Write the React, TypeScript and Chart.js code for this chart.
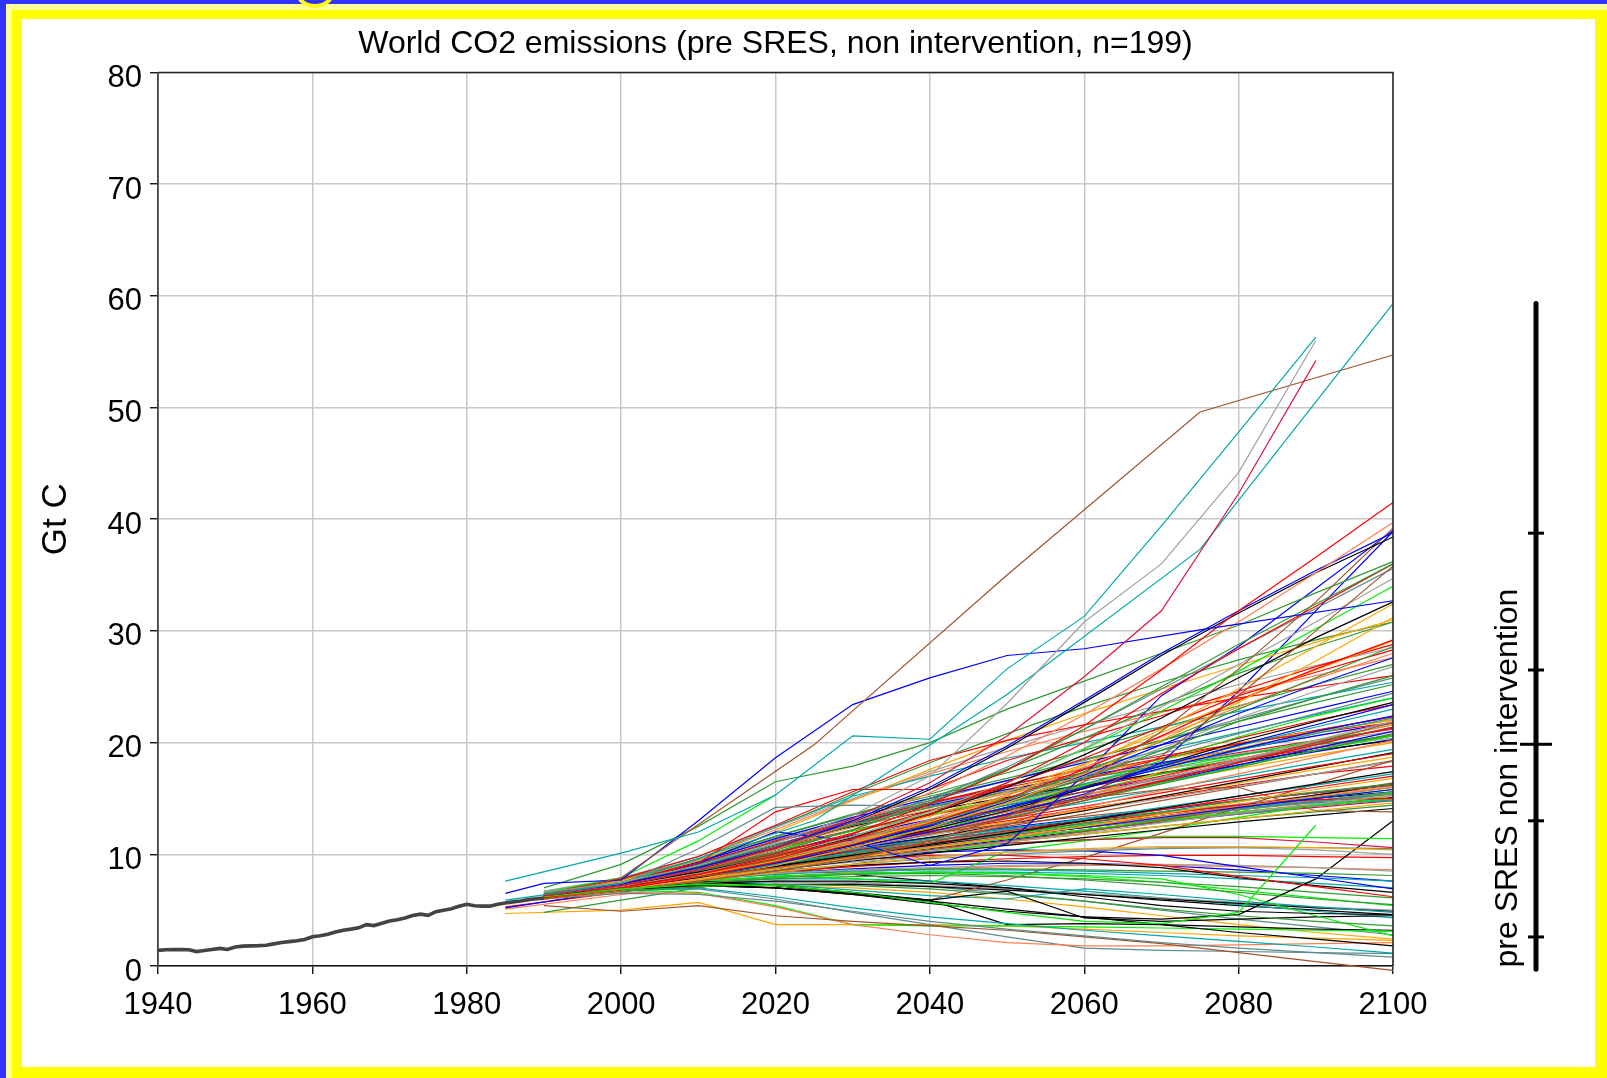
import React, { useEffect, useRef } from 'react';
import { Chart, registerables } from 'chart.js';

Chart.register(...registerables);

// ---------------- data ----------------
const HIST_YEARS = [
  1940, 1941, 1942, 1943, 1944, 1945, 1946, 1947, 1948, 1949,
  1950, 1951, 1952, 1953, 1954, 1955, 1956, 1957, 1958, 1959,
  1960, 1961, 1962, 1963, 1964, 1965, 1966, 1967, 1968, 1969,
  1970, 1971, 1972, 1973, 1974, 1975, 1976, 1977, 1978, 1979,
  1980, 1981, 1982, 1983, 1984, 1985, 1986, 1987, 1988, 1989, 1990,
];
const HIST_VALUES = [
  1.40, 1.46, 1.47, 1.47, 1.46, 1.29, 1.38, 1.48, 1.58, 1.48,
  1.70, 1.78, 1.80, 1.82, 1.86, 1.98, 2.10, 2.18, 2.26, 2.38,
  2.62, 2.70, 2.85, 3.05, 3.20, 3.30, 3.42, 3.70, 3.62, 3.82,
  4.02, 4.14, 4.30, 4.52, 4.64, 4.54, 4.86, 5.00, 5.12, 5.34,
  5.52, 5.40, 5.36, 5.36, 5.52, 5.64, 5.74, 5.82, 5.94, 6.02, 6.08,
];

const DECADES = [1990, 2000, 2010, 2020, 2030, 2040, 2050, 2060, 2070, 2080, 2090, 2100];
const DECADES_TO_2090 = [1990, 2000, 2010, 2020, 2030, 2040, 2050, 2060, 2070, 2080, 2090];
const YEARS_85 = [1985, 2000, 2010, 2020, 2030, 2040, 2050, 2060, 2070, 2080, 2090, 2100];
const IS_YEARS = [1990, 2000, 2025, 2050, 2075, 2100];
const CYAN_A_YEARS = [1985, 2000, 2010, 2020, 2030, 2040, 2050, 2060, 2070, 2080, 2090];
const BLUE_B_YEARS = [1985, 1990, 2000, 2010, 2020, 2030, 2040, 2050, 2060, 2075, 2100];
const LIME_SHORT_YEARS = [1990, 2000, 2010, 2020];

const CYAN_A = [7.6, 10.1, 12.0, 15.3, 20.6, 20.3, 26.6, 31.3, 39.4, 47.8, 56.3];
const GRAY_END = [6.6, 7.5, 9.0, 11.0, 13.5, 17.0, 23.5, 30.8, 36.0, 44.2, 56.0];
const CRIMSON_END = [6.3, 7.2, 8.6, 10.6, 13.2, 16.4, 20.6, 25.9, 31.8, 42.3, 54.2];
const LIME_END = [6.2, 6.9, 7.3, 7.2, 6.6, 5.7, 4.8, 4.0, 3.8, 4.8, 12.6];
const CYAN_B = [6.4, 7.4, 13.0, 24.3, 37.3, 59.3];
const BROWN_B = [6.3, 7.9, 19.8, 35.0, 49.6, 54.7];
const BLUE_B = [6.5, 7.4, 7.7, 13.0, 18.65, 23.4, 25.8, 27.8, 28.4, 30.1, 32.7];
const LIME_SHORT = [6.6, 7.9, 11.2, 15.3];

const UPPER: number[][] = [
  [6.1, 7.0, 8.2, 9.8, 11.8, 14.5, 17.5, 21.5, 26.5, 31.8, 36.6, 41.5],
  [6.3, 7.2, 8.6, 10.4, 12.8, 15.5, 18.8, 22.5, 26.6, 30.8, 35.2, 39.7],
  [6.3, 7.3, 8.8, 10.6, 13.0, 16.0, 19.7, 23.8, 28.0, 31.8, 35.4, 38.8],
  [6.2, 7.2, 8.6, 10.4, 12.8, 15.8, 19.5, 23.6, 27.8, 31.6, 35.2, 38.4],
  [6.4, 7.3, 8.6, 10.2, 12.2, 14.6, 17.6, 21.2, 25.0, 28.8, 32.4, 36.0],
  [6.2, 7.0, 8.2, 9.6, 11.4, 13.6, 16.4, 20.0, 24.4, 28.4, 32.2, 36.0],
  [6.3, 7.2, 8.0, 8.8, 9.8, 11.0, 12.6, 15.2, 18.8, 24.2, 30.0, 35.8],
  [6.0, 6.8, 7.6, 8.5, 9.6, 11.2, 13.4, 16.5, 21.0, 26.6, 32.6, 39.2],
  [6.4, 7.3, 8.6, 10.2, 12.2, 14.8, 17.8, 21.2, 24.8, 28.4, 32.0, 35.6],
  [6.2, 7.1, 8.3, 9.8, 11.6, 13.8, 16.4, 19.5, 23.2, 27.0, 30.8, 34.7],
  [6.3, 7.2, 8.4, 9.8, 11.5, 13.6, 16.0, 18.9, 22.2, 25.8, 29.4, 32.6],
  [6.1, 7.0, 8.1, 9.4, 11.0, 12.9, 15.2, 18.0, 21.2, 24.8, 28.6, 32.4],
  [6.0, 6.8, 7.8, 9.0, 10.6, 12.4, 14.6, 17.2, 20.2, 23.6, 27.3, 31.2],
  [6.2, 7.1, 8.3, 9.8, 11.6, 13.8, 16.4, 19.4, 22.8, 26.4, 30.2, 34.0],
  [6.5, 7.5, 8.9, 10.6, 12.6, 15.0, 17.6, 20.4, 23.4, 26.2, 28.6, 30.8],
  [6.0, 6.9, 8.0, 9.3, 10.9, 12.8, 15.0, 17.6, 20.6, 23.8, 26.6, 29.2],
  [6.3, 7.2, 8.4, 9.8, 11.5, 13.4, 15.6, 18.1, 20.9, 23.8, 26.5, 29.1],
  [6.1, 7.0, 8.1, 9.4, 11.0, 12.8, 14.9, 17.4, 20.1, 23.0, 25.8, 28.6],
  [6.4, 7.3, 8.6, 10.1, 11.9, 13.9, 16.1, 18.6, 21.4, 24.2, 26.3, 28.3],
  [6.2, 7.0, 8.2, 9.6, 11.2, 13.1, 15.3, 17.8, 20.5, 23.2, 25.7, 28.0],
  [6.1, 6.9, 8.0, 9.3, 10.8, 12.6, 14.7, 17.1, 19.8, 22.6, 25.2, 27.6],
  [6.3, 7.2, 8.3, 9.6, 11.1, 12.8, 14.8, 17.0, 19.5, 22.2, 24.6, 26.8],
  [6.2, 7.1, 8.2, 9.5, 11.0, 12.7, 14.6, 16.8, 19.3, 21.9, 24.0, 26.0],
  [7.0, 9.1, 12.5, 16.5, 17.9, 20.0, 23.0, 25.5, 28.0, 30.5, 33.4, 36.2],
  [6.4, 7.3, 10.5, 14.2, 14.4, 14.3, 15.6, 17.2, 19.0, 20.8, 22.6, 24.4],
  [6.3, 7.4, 9.2, 13.8, 15.8, 15.8, 18.4, 20.4, 22.4, 24.6, 26.8, 28.8],
  [6.2, 7.2, 9.2, 12.0, 11.2, 9.0, 10.95, 17.1, 24.2, 28.6, 33.8, 39.0],
  [6.5, 7.8, 9.8, 12.6, 15.6, 18.4, 20.2, 21.6, 22.8, 24.0, 25.0, 26.0],
  [6.4, 7.6, 9.4, 12.0, 14.8, 17.6, 20.2, 22.6, 24.8, 26.9, 29.0, 31.0],
  [6.6, 7.9, 9.8, 12.4, 15.0, 17.4, 19.6, 21.6, 23.4, 25.2, 26.9, 28.5],
  [6.3, 7.6, 9.6, 12.4, 15.4, 18.2, 20.8, 23.2, 25.4, 27.4, 29.2, 30.8],
  [6.5, 7.8, 9.8, 12.5, 15.2, 17.0, 18.6, 20.0, 21.4, 22.8, 24.1, 25.4],
  [6.4, 7.7, 9.6, 12.2, 14.9, 17.2, 19.2, 21.0, 22.7, 24.4, 26.0, 27.6],
  [6.2, 7.0, 8.0, 9.2, 10.6, 12.0, 13.6, 15.4, 18.2, 24.6, 31.8, 38.9],
];

const MIDDLE: number[][] = [
  [6.0, 6.9, 8.0, 9.3, 10.8, 12.4, 14.2, 16.2, 18.4, 20.5, 22.4, 24.0],
  [6.3, 7.2, 8.3, 9.5, 10.8, 12.2, 13.9, 15.9, 18.0, 20.1, 21.9, 23.6],
  [6.2, 7.2, 8.4, 9.8, 11.4, 13.0, 14.8, 16.7, 18.6, 20.4, 22.0, 23.4],
  [6.1, 7.0, 8.1, 9.4, 10.9, 12.4, 14.1, 15.9, 17.7, 19.4, 21.0, 22.4],
  [6.4, 7.3, 8.5, 9.9, 11.3, 12.8, 14.4, 16.0, 17.7, 19.3, 20.8, 22.2],
  [6.2, 7.1, 8.3, 9.7, 11.2, 12.8, 14.5, 16.2, 17.9, 19.5, 20.9, 22.1],
  [6.0, 6.9, 8.0, 9.2, 10.5, 11.9, 13.4, 15.0, 16.7, 18.4, 20.2, 21.9],
  [6.3, 7.2, 8.2, 9.3, 10.5, 11.8, 13.2, 14.8, 16.5, 18.2, 20.0, 21.8],
  [6.1, 7.0, 8.1, 9.4, 10.8, 12.3, 13.8, 15.3, 16.9, 18.5, 20.1, 21.6],
  [6.2, 7.1, 8.2, 9.5, 10.9, 12.3, 13.8, 15.3, 16.8, 18.3, 19.9, 21.4],
  [6.4, 7.4, 8.6, 10.0, 11.4, 12.8, 14.2, 15.6, 17.0, 18.5, 20.0, 21.3],
  [6.0, 7.0, 8.2, 9.6, 10.9, 12.1, 13.2, 14.3, 15.5, 16.7, 17.9, 19.0],
  [6.3, 7.3, 8.5, 9.9, 11.2, 12.5, 13.8, 15.1, 16.5, 18.0, 19.5, 21.0],
  [6.1, 7.0, 8.1, 9.3, 10.6, 11.9, 13.3, 14.8, 16.3, 17.8, 19.3, 20.8],
  [6.2, 7.1, 8.3, 9.6, 10.9, 12.2, 13.6, 15.0, 16.4, 17.9, 19.3, 20.6],
  [6.5, 7.5, 8.7, 10.0, 11.2, 12.4, 13.5, 14.6, 15.8, 17.0, 18.2, 19.4],
  [6.0, 6.9, 7.9, 9.1, 10.3, 11.5, 12.7, 13.9, 15.2, 16.5, 17.8, 19.1],
  [6.3, 7.2, 8.3, 9.5, 10.7, 11.8, 12.9, 14.0, 15.2, 16.4, 17.6, 18.7],
  [6.1, 7.0, 8.2, 9.4, 10.6, 11.7, 12.8, 13.9, 15.0, 16.1, 17.2, 18.3],
  [6.2, 7.1, 8.1, 9.2, 10.3, 11.4, 12.5, 13.6, 14.8, 16.0, 17.2, 18.4],
  [6.4, 7.3, 8.3, 9.4, 10.4, 11.3, 12.1, 12.9, 13.7, 14.5, 15.3, 16.1],
  [6.0, 6.9, 7.9, 8.9, 9.9, 10.8, 11.6, 12.4, 13.2, 14.0, 14.8, 15.6],
  [6.3, 7.3, 8.5, 9.8, 11.0, 12.0, 13.0, 14.1, 15.1, 16.2, 17.2, 17.9],
  [6.1, 7.1, 8.2, 9.4, 10.5, 11.5, 12.4, 13.2, 14.0, 14.8, 15.5, 16.2],
  [6.2, 7.1, 8.0, 9.0, 9.9, 10.8, 11.6, 12.4, 13.2, 14.0, 14.8, 15.5],
  [6.0, 6.9, 7.9, 9.0, 10.1, 11.0, 11.8, 12.6, 13.4, 14.2, 15.0, 15.8],
  [6.3, 7.2, 8.2, 9.3, 10.3, 11.2, 12.0, 12.7, 13.4, 14.1, 14.8, 15.4],
  [6.2, 7.2, 8.3, 9.5, 10.6, 11.5, 12.3, 13.0, 13.7, 14.4, 15.0, 15.6],
  [6.1, 7.0, 7.9, 8.9, 9.8, 10.6, 11.4, 12.2, 13.0, 13.8, 14.5, 15.2],
  [6.4, 7.3, 8.3, 9.4, 10.4, 11.2, 11.9, 12.6, 13.3, 14.0, 14.6, 15.2],
  [6.0, 6.9, 7.9, 9.0, 10.0, 10.8, 11.6, 12.4, 13.2, 14.0, 14.7, 15.4],
  [6.2, 7.1, 8.1, 9.2, 10.1, 10.9, 11.7, 12.4, 13.1, 13.8, 14.4, 15.0],
  [6.3, 7.2, 8.1, 9.1, 10.0, 10.8, 11.5, 12.2, 12.9, 13.6, 14.3, 14.9],
  [6.1, 7.0, 8.0, 9.1, 10.0, 10.8, 11.5, 12.2, 12.9, 13.6, 14.2, 14.8],
  [6.2, 7.2, 8.2, 9.3, 10.2, 11.0, 11.7, 12.4, 13.1, 13.8, 14.4, 15.0],
  [6.0, 6.9, 7.8, 8.8, 9.7, 10.5, 11.3, 12.1, 12.9, 13.7, 14.4, 15.1],
  [6.5, 7.6, 9.0, 10.8, 12.6, 14.2, 15.6, 16.8, 17.9, 18.9, 19.8, 20.6],
  [6.4, 7.4, 8.8, 10.6, 12.6, 14.6, 16.2, 17.6, 18.8, 19.9, 20.9, 21.8],
  [6.2, 7.0, 8.0, 9.2, 10.5, 12.0, 13.6, 15.2, 17.4, 20.0, 21.0, 22.0],
  [6.3, 7.4, 8.9, 10.8, 12.8, 14.4, 15.8, 17.0, 18.2, 19.4, 20.6, 21.8],
  [6.1, 7.0, 8.2, 9.7, 11.2, 12.6, 14.0, 15.6, 17.2, 18.8, 20.2, 21.6],
  [6.4, 7.5, 9.0, 10.9, 12.7, 14.2, 15.5, 16.6, 17.6, 18.6, 19.6, 20.4],
  [6.5, 7.6, 9.2, 11.2, 13.0, 14.6, 16.0, 17.3, 18.6, 19.9, 21.1, 22.3],
  [6.6, 7.7, 9.3, 11.4, 13.3, 15.0, 16.6, 18.2, 19.8, 21.4, 23.0, 24.6],
  [6.4, 7.5, 9.0, 10.9, 12.7, 14.3, 15.8, 17.2, 18.5, 19.8, 21.0, 22.0],
  [6.5, 7.7, 9.4, 11.6, 13.5, 15.2, 16.8, 18.5, 20.2, 21.9, 23.6, 25.2],
  [6.3, 7.4, 8.9, 10.7, 12.4, 14.0, 15.4, 16.8, 18.1, 19.4, 20.6, 21.7],
  [6.7, 7.9, 9.5, 11.5, 13.2, 14.6, 15.8, 16.9, 18.0, 19.0, 20.0, 21.0],
  [6.4, 7.5, 9.1, 11.1, 12.9, 14.5, 16.1, 17.7, 19.3, 20.9, 22.5, 24.0],
  [6.5, 7.6, 9.1, 10.9, 12.5, 13.9, 15.1, 16.2, 17.3, 18.3, 19.3, 20.2],
  [6.3, 7.3, 8.7, 10.4, 12.1, 13.6, 15.0, 16.3, 17.6, 18.9, 20.1, 21.3],
  [6.6, 7.8, 9.4, 11.3, 13.1, 14.8, 16.6, 18.4, 20.2, 22.1, 24.0, 25.8],
  [6.2, 7.3, 8.8, 10.6, 12.2, 13.6, 14.9, 16.1, 17.3, 18.5, 19.6, 20.7],
  [6.5, 7.6, 9.2, 11.1, 12.8, 14.3, 15.6, 16.8, 18.0, 19.1, 20.2, 21.2],
  [6.4, 7.4, 8.8, 10.5, 12.1, 13.5, 14.8, 16.0, 17.2, 18.4, 19.5, 20.6],
  [6.3, 7.3, 8.6, 10.2, 11.7, 13.1, 14.4, 15.6, 16.8, 18.0, 19.2, 20.3],
  [6.2, 7.2, 8.5, 10.1, 11.6, 12.9, 14.1, 15.3, 16.5, 17.7, 18.9, 20.0],
  [6.6, 7.8, 9.5, 11.6, 13.6, 15.4, 17.3, 19.3, 21.3, 23.3, 25.2, 27.0],
  [6.4, 7.5, 9.0, 10.8, 12.6, 14.2, 15.7, 17.1, 18.5, 19.8, 21.1, 22.3],
];

const LOWER: number[][] = [
  [6.2, 7.0, 7.9, 8.9, 9.9, 10.9, 11.9, 13.0, 14.1, 15.2, 16.3, 17.4],
  [6.1, 7.0, 8.0, 9.1, 10.2, 11.2, 12.2, 13.2, 14.2, 15.2, 16.2, 17.2],
  [6.3, 7.2, 8.2, 9.3, 10.3, 11.2, 12.1, 13.0, 14.0, 15.0, 16.0, 17.0],
  [6.0, 6.8, 7.7, 8.7, 9.7, 10.6, 11.5, 12.5, 13.6, 14.7, 15.8, 16.8],
  [6.2, 7.1, 8.1, 9.1, 10.0, 10.9, 11.8, 12.8, 13.8, 14.8, 15.6, 16.3],
  [6.4, 7.4, 8.6, 9.9, 11.0, 11.9, 12.7, 13.4, 14.1, 14.8, 15.5, 16.2],
  [6.1, 6.9, 7.8, 8.8, 9.8, 10.7, 11.6, 12.5, 13.4, 14.3, 15.2, 16.0],
  [6.2, 7.0, 7.9, 8.9, 9.8, 10.7, 11.6, 12.4, 13.3, 14.2, 15.0, 15.8],
  [6.3, 7.1, 8.0, 9.0, 9.9, 10.8, 11.6, 12.5, 13.4, 14.3, 15.3, 16.3],
  [6.0, 6.8, 7.7, 8.6, 9.5, 10.3, 11.1, 11.9, 12.8, 13.7, 14.5, 15.3],
  [6.3, 7.2, 8.2, 9.2, 10.1, 10.9, 11.7, 12.5, 13.3, 14.0, 14.7, 15.4],
  [6.1, 7.0, 8.0, 9.1, 10.1, 11.0, 11.9, 12.8, 13.6, 14.4, 14.9, 15.0],
  [6.2, 7.0, 7.9, 8.8, 9.6, 10.4, 11.2, 12.0, 13.0, 14.2, 15.3, 16.4],
  [6.3, 7.3, 8.6, 10.0, 11.4, 12.8, 14.0, 15.0, 15.8, 16.0, 13.9, 13.8],
  [6.0, 6.9, 7.9, 8.9, 9.8, 10.6, 11.4, 12.2, 13.0, 13.8, 14.4, 15.0],
  [6.2, 7.1, 8.2, 9.3, 10.4, 11.4, 12.3, 13.1, 13.8, 14.4, 14.6, 14.8],
  [6.3, 7.1, 8.0, 8.9, 9.7, 10.4, 11.1, 11.8, 12.5, 13.2, 13.9, 14.6],
  [6.1, 6.9, 7.8, 8.7, 9.6, 10.4, 11.1, 11.8, 12.5, 13.2, 13.8, 14.4],
  [6.2, 7.0, 7.8, 8.6, 9.4, 10.1, 10.8, 11.5, 12.2, 12.9, 13.5, 14.1],
  [6.3, 7.2, 8.2, 9.2, 10.0, 10.6, 11.0, 11.3, 11.5, 11.5, 11.1, 10.6],
  [6.1, 7.0, 7.9, 8.8, 9.6, 10.3, 10.9, 11.3, 11.6, 11.6, 11.5, 11.4],
  [6.0, 6.8, 7.6, 8.4, 9.1, 9.7, 10.2, 10.5, 10.7, 10.7, 10.6, 10.4],
  [6.3, 7.1, 7.9, 8.7, 9.3, 9.8, 10.2, 10.4, 10.6, 10.6, 10.4, 10.0],
  [6.2, 7.0, 7.8, 8.5, 9.1, 9.6, 10.0, 10.3, 10.5, 10.6, 10.6, 10.5],
  [6.1, 7.0, 7.9, 8.8, 9.5, 9.9, 9.9, 9.6, 9.0, 8.0, 7.1, 6.2],
  [6.3, 7.2, 8.1, 9.0, 9.7, 10.2, 10.4, 10.3, 9.9, 8.9, 7.9, 6.9],
  [6.2, 7.0, 7.8, 8.5, 9.0, 9.3, 9.4, 9.2, 8.8, 7.9, 7.2, 6.6],
  [6.0, 6.8, 7.4, 7.9, 8.2, 8.3, 8.1, 7.7, 7.2, 6.6, 6.0, 5.5],
  [6.2, 7.0, 7.4, 7.6, 7.6, 7.4, 7.0, 6.2, 5.4, 4.9, 4.7, 4.6],
  [6.1, 6.7, 7.1, 7.3, 7.2, 6.9, 6.4, 5.8, 5.1, 4.5, 4.0, 3.6],
  [6.3, 7.0, 7.6, 8.0, 8.3, 8.4, 8.3, 8.1, 7.8, 6.4, 4.5, 2.7],
  [6.2, 6.9, 7.2, 7.0, 6.4, 5.8, 5.1, 4.4, 3.7, 3.0, 2.4, 1.8],
  [6.1, 6.7, 7.0, 6.2, 5.2, 4.4, 3.8, 3.2, 2.7, 2.2, 1.7, 1.15],
  [6.0, 6.5, 6.4, 5.8, 4.9, 4.0, 3.3, 2.7, 2.1, 1.6, 1.2, 0.8],
  [5.4, 4.9, 5.4, 4.5, 4.0, 3.6, 3.2, 2.6, 2.0, 1.2, 0.4, -0.4],
  [6.0, 6.6, 6.5, 5.3, 3.7, 2.8, 2.1, 1.8, 1.8, 1.9, 2.0, 2.1],
  [6.2, 6.8, 6.9, 6.0, 4.8, 3.7, 2.6, 1.6, 1.4, 1.3, 1.2, 1.1],
  [6.1, 6.8, 6.6, 5.4, 3.7, 3.6, 3.6, 3.5, 3.4, 3.3, 3.2, 3.1],
  [6.3, 7.0, 7.3, 7.0, 6.5, 5.9, 3.7, 3.8, 3.7, 3.5, 3.3, 3.2],
  [6.2, 7.0, 7.6, 7.2, 6.6, 5.9, 6.7, 4.3, 4.0, 4.2, 4.4, 4.5],
  [6.3, 7.1, 7.6, 7.3, 6.8, 6.3, 6.0, 6.9, 6.4, 5.8, 5.3, 4.8],
  [6.1, 7.0, 7.8, 8.3, 8.6, 8.8, 9.0, 9.1, 9.1, 9.0, 8.8, 8.5],
  [6.3, 7.1, 7.8, 8.3, 8.6, 8.7, 8.7, 8.6, 8.5, 8.4, 8.3, 8.1],
  [6.0, 6.9, 7.7, 8.2, 8.5, 8.6, 8.6, 8.5, 8.3, 8.1, 7.9, 7.6],
  [6.2, 7.0, 7.5, 7.2, 6.4, 5.9, 7.7, 9.7, 11.9, 14.2, 16.3, 18.4],
  [6.1, 6.8, 7.2, 7.0, 6.4, 5.6, 4.9, 4.4, 4.2, 4.6, 7.8, 13.0],
  [6.2, 7.0, 7.8, 8.2, 7.8, 7.4, 10.3, 11.2, 12.2, 13.3, 14.4, 15.5],
  [6.2, 7.0, 7.6, 8.0, 8.3, 8.4, 8.4, 8.3, 8.1, 7.8, 7.4, 7.0],
  [6.1, 6.9, 7.5, 8.0, 8.4, 8.7, 8.9, 9.0, 9.0, 8.9, 8.8, 8.6],
  [6.3, 7.1, 7.8, 8.4, 8.9, 9.3, 9.6, 9.8, 9.9, 9.9, 9.8, 9.7],
  [6.0, 6.7, 7.1, 7.3, 7.3, 7.1, 6.8, 6.4, 6.0, 5.6, 5.2, 4.9],
  [6.2, 6.9, 7.3, 7.5, 7.4, 7.2, 6.9, 6.5, 6.1, 5.7, 5.3, 5.0],
  [6.1, 6.8, 7.4, 7.8, 8.0, 8.1, 8.0, 7.8, 7.5, 7.1, 6.6, 6.1],
  [6.0, 6.7, 7.1, 7.2, 7.0, 6.6, 6.0, 5.3, 4.5, 3.7, 3.0, 2.4],
  [6.2, 6.9, 7.4, 7.6, 7.5, 7.1, 6.5, 5.8, 5.0, 4.2, 3.5, 2.8],
  [6.3, 7.0, 7.5, 7.8, 7.8, 7.6, 7.2, 6.7, 6.1, 5.5, 4.9, 4.3],
  [6.4, 7.5, 8.4, 8.7, 8.2, 7.6, 7.0, 6.4, 5.9, 5.4, 5.0, 4.6],
  [6.0, 6.8, 7.5, 8.0, 8.3, 8.4, 8.3, 8.0, 7.5, 6.8, 6.1, 5.4],
  [6.2, 7.0, 7.7, 8.3, 8.7, 9.0, 9.2, 9.2, 9.0, 8.6, 8.1, 7.6],
  [4.8, 5.9, 7.0, 8.1, 9.1, 10.1, 11.1, 12.1, 13.1, 14.1, 15.1, 16.0],
];

const START_1985: number[][] = [
  [5.2, 6.8, 8.0, 9.4, 10.9, 12.5, 14.2, 16.0, 17.9, 19.8, 21.6, 23.4],
  [5.3, 6.6, 7.8, 9.2, 10.6, 12.0, 13.5, 15.0, 16.6, 18.2, 19.8, 21.4],
  [5.1, 6.4, 7.4, 8.6, 9.9, 11.3, 12.7, 14.2, 15.7, 17.2, 18.7, 20.2],
  [5.9, 7.3, 8.5, 9.9, 11.4, 13.0, 14.6, 16.3, 18.0, 19.7, 21.4, 23.0],
  [4.7, 5.0, 5.7, 3.7, 3.7, 3.7, 3.6, 3.3, 3.0, 2.7, 2.5, 2.3],
];

// 2100 range of the scenario set: min, 5%, 25%, median, 75%, 95%, max
const RANGE_2100 = [-0.3, 2.6, 13.0, 19.85, 26.5, 38.75, 59.3];

const X_TICKS = [1940, 1960, 1980, 2000, 2020, 2040, 2060, 2080, 2100];
const Y_TICKS = [0, 10, 20, 30, 40, 50, 60, 70, 80];

// ---------------- styles ----------------
const PALETTE: Record<string, string> = {
  R: '#ff0000', B: '#0000ff', G: '#339933', L: '#00ee00', T: '#00a8a8', K: '#000000',
  O: '#ffa500', Y: '#a0a0a0', N: '#a0522d', C: '#ff7f50', S: '#5f8a8b', M: '#dc143c',
};
const UPPER_COLORS = 'RCBKGRNNSYKOOLGROGRCBYGGSRBROYGTCB';
const MIDDLE_COLORS = 'LKRBTOYNCSMRBGLTKOYNCSRBGLTKOYNCSMRBGROBLYRBOGCYTKLSNMRBOGY';
const LOWER_COLORS = 'KTROGNCBKYSRNNLTOGKMLOYSRBKGKGLKTSNCSLKKTYGTNKLTCRKYGOSTKLBG';
const START_1985_COLORS = 'BRCTO';

const FONT = '"Liberation Sans", Arial, Helvetica, sans-serif';

function pts(xs: number[], ys: number[]) {
  return ys.map((v, i) => ({ x: xs[i], y: v }));
}

export default function App() {
  const ref = useRef<HTMLCanvasElement | null>(null);

  useEffect(() => {
    document.body.style.margin = '0';
    document.body.style.overflow = 'hidden';
    const canvas = ref.current;
    if (!canvas) return;

    const line = (xs: number[], ys: number[], color: string, width = 1.2) => ({
      data: pts(xs, ys),
      borderColor: color,
      borderWidth: width,
      pointRadius: 0,
      tension: 0,
      fill: false,
      clip: false,
    });

    const datasets: any[] = [];
    datasets.push(line(HIST_YEARS, HIST_VALUES, '#444444', 3.6));
    datasets.push(line(CYAN_A_YEARS, CYAN_A, PALETTE.T));
    datasets.push(line(DECADES_TO_2090, GRAY_END, PALETTE.Y));
    datasets.push(line(DECADES_TO_2090, CRIMSON_END, PALETTE.M));
    datasets.push(line(DECADES_TO_2090, LIME_END, PALETTE.L));
    datasets.push(line(IS_YEARS, CYAN_B, PALETTE.T));
    datasets.push(line(IS_YEARS, BROWN_B, PALETTE.N));
    datasets.push(line(BLUE_B_YEARS, BLUE_B, PALETTE.B));
    datasets.push(line(LIME_SHORT_YEARS, LIME_SHORT, PALETTE.L));
    UPPER.forEach((v, i) => datasets.push(line(DECADES, v, PALETTE[UPPER_COLORS[i]])));
    LOWER.forEach((v, i) => datasets.push(line(DECADES, v, PALETTE[LOWER_COLORS[i]])));
    START_1985.forEach((v, i) => datasets.push(line(YEARS_85, v, PALETTE[START_1985_COLORS[i]])));
    MIDDLE.forEach((v, i) => datasets.push(line(DECADES, v, PALETTE[MIDDLE_COLORS[i]])));

    const framePlugin = {
      id: 'frameAndRange',
      afterDraw(chart: any) {
        const { ctx, chartArea, scales } = chart;
        const y = scales.y;
        ctx.save();
        // plot frame (top / right)
        ctx.strokeStyle = '#222222';
        ctx.lineWidth = 1.5;
        ctx.beginPath();
        ctx.moveTo(chartArea.left, chartArea.top);
        ctx.lineTo(chartArea.right, chartArea.top);
        ctx.lineTo(chartArea.right, chartArea.bottom);
        ctx.stroke();

        // range bar for 2100
        const bx = chartArea.right + 143;
        ctx.strokeStyle = '#000000';
        ctx.lineCap = 'round';
        ctx.lineWidth = 5;
        ctx.beginPath();
        ctx.moveTo(bx, y.getPixelForValue(RANGE_2100[0]));
        ctx.lineTo(bx, y.getPixelForValue(RANGE_2100[6]));
        ctx.stroke();
        ctx.lineCap = 'butt';
        ctx.lineWidth = 3;
        [1, 2, 3, 4, 5].forEach((k) => {
          const half = k === 3 ? 16 : 8;
          const py = y.getPixelForValue(RANGE_2100[k]);
          ctx.beginPath();
          ctx.moveTo(bx - half, py);
          ctx.lineTo(bx + half, py);
          ctx.stroke();
        });

        // rotated label
        ctx.fillStyle = '#000000';
        ctx.font = '32px ' + FONT;
        ctx.textAlign = 'left';
        ctx.textBaseline = 'alphabetic';
        ctx.translate(chartArea.right + 124, y.getPixelForValue(0) + 1.5);
        ctx.rotate(-Math.PI / 2);
        ctx.fillText('pre SRES non intervention', 0, 0);
        ctx.restore();
      },
    };

    const chart = new Chart(canvas, {
      type: 'line',
      data: { datasets },
      options: {
        animation: false,
        responsive: false,
        devicePixelRatio: 1,
        events: [],
        parsing: false,
        normalized: true,
        layout: { padding: { top: 19, left: 22, right: 214, bottom: 0 } },
        plugins: {
          legend: { display: false },
          tooltip: { enabled: false },
          title: {
            display: true,
            text: 'World CO2 emissions (pre SRES, non intervention, n=199)',
            fullSize: false,
            color: '#000000',
            font: { family: FONT, size: 32, weight: 'normal', lineHeight: 1.2 },
            padding: { top: 6, bottom: 9 },
          },
        },
        scales: {
          x: {
            type: 'linear',
            min: 1940,
            max: 2100,
            afterBuildTicks: (scale: any) => {
              scale.ticks = X_TICKS.map((v) => ({ value: v }));
            },
            afterFit: (scale: any) => {
              scale.height = 112;
            },
            ticks: {
              color: '#000000',
              font: { family: FONT, size: 31 },
              padding: 13,
              maxRotation: 0,
              autoSkip: false,
              callback: (v: any) => String(v),
            },
            grid: {
              color: '#c8c8c8',
              lineWidth: 1.5,
              tickColor: '#000000',
              tickWidth: 1.3,
              tickLength: 8,
            },
            border: { display: true, color: '#111111', width: 1.5 },
          },
          y: {
            type: 'linear',
            min: 0,
            max: 80,
            afterBuildTicks: (scale: any) => {
              scale.ticks = Y_TICKS.map((v) => ({ value: v }));
            },
            afterFit: (scale: any) => {
              scale.width = 136;
            },
            ticks: {
              color: '#000000',
              font: { family: FONT, size: 31 },
              padding: 8,
              labelOffset: 6,
              autoSkip: false,
              callback: (v: any) => String(v),
            },
            grid: {
              color: '#c8c8c8',
              lineWidth: 1.5,
              tickColor: '#000000',
              tickWidth: 1.3,
              tickLength: 8,
            },
            border: { display: true, color: '#444444', width: 1.8 },
            title: {
              display: true,
              text: 'Gt C',
              color: '#000000',
              font: { family: FONT, size: 35, lineHeight: 1.2 },
              padding: { top: 13, bottom: 0 },
            },
          },
        },
      },
      plugins: [framePlugin],
    } as any);

    return () => {
      chart.destroy();
    };
  }, []);

  return (
    <div
      style={{
        position: 'absolute',
        left: 0,
        top: 0,
        width: 1607,
        height: 1078,
        background: '#3333ff',
        overflow: 'hidden',
      }}
    >
      <div style={{ position: 'absolute', left: 6, top: 4, width: 1601, height: 1074, background: '#ffff99' }} />
      <div style={{ position: 'absolute', left: 12, top: 10, width: 1595, height: 1068, background: '#ffff00' }} />
      <div style={{ position: 'absolute', left: 22, top: 19, width: 1573, height: 1048, background: '#ffffff' }} />
      <div
        style={{
          position: 'absolute',
          left: 296,
          top: -22,
          width: 38,
          height: 30,
          boxSizing: 'border-box',
          border: '4px solid #ffff00',
          borderRadius: '50%',
        }}
      />
      <canvas
        ref={ref}
        width={1607}
        height={1078}
        style={{ position: 'absolute', left: 0, top: 0, width: 1607, height: 1078 }}
      />
    </div>
  );
}
